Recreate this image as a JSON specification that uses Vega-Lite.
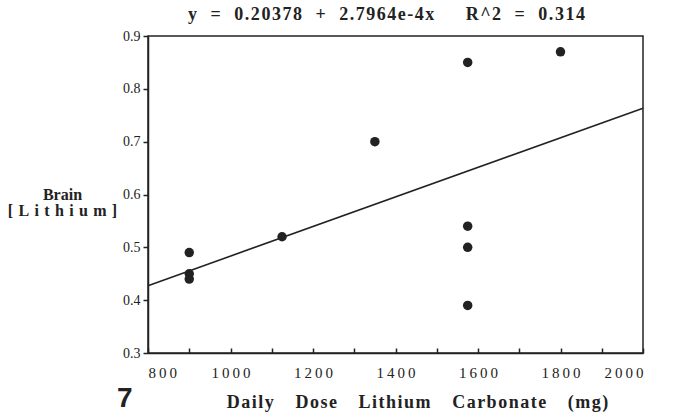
{
  "$schema": "https://vega.github.io/schema/vega-lite/v6.json",
  "width": 495,
  "height": 317,
  "autosize": "none",
  "padding": {"left": 148, "top": 36, "right": 34, "bottom": 62},
  "background": "white",
  "config": {
    "view": {"stroke": "#222", "strokeWidth": 1.5},
    "axis": {"grid": false, "domainColor": "#222", "domainWidth": 1.5, "tickColor": "#222", "labelColor": "#222", "titleColor": "#222", "labelFont": "Liberation Serif", "titleFont": "Liberation Serif"}
  },
  "title": {
    "text": "y\u2002 =\u2002 0\u200A.\u200A2\u200A0\u200A3\u200A7\u200A8\u2002 +\u2002 2\u200A.\u200A7\u200A9\u200A6\u200A4\u200Ae\u200A-\u200A4\u200Ax\u2003\u2002 R\u200A^\u200A2\u2002 =\u2002 0\u200A.\u200A3\u200A1\u200A4",
    "font": "Liberation Serif",
    "fontSize": 18,
    "fontWeight": "bold",
    "color": "#222",
    "anchor": "middle",
    "dx": -9,
    "offset": 5
  },
  "datasets": {
    "pts": [
      {"dose": 900, "li": 0.49},
      {"dose": 900, "li": 0.45},
      {"dose": 900, "li": 0.44},
      {"dose": 1125, "li": 0.52},
      {"dose": 1350, "li": 0.70},
      {"dose": 1575, "li": 0.85},
      {"dose": 1575, "li": 0.54},
      {"dose": 1575, "li": 0.50},
      {"dose": 1575, "li": 0.39},
      {"dose": 1800, "li": 0.87}
    ],
    "fit": [
      {"dose": 800, "li": 0.4275},
      {"dose": 2000, "li": 0.7631}
    ],
    "fig": [
      {"dose": 744, "li": 0.198, "label": "7"}
    ]
  },
  "layer": [
    {
      "data": {"name": "pts"},
      "mark": {"type": "circle", "size": 90, "color": "#222", "opacity": 1},
      "encoding": {
        "x": {
          "field": "dose", "type": "quantitative",
          "scale": {"domain": [800, 2000], "nice": false, "zero": false},
          "axis": {
            "values": [800, 900, 1000, 1100, 1200, 1300, 1400, 1500, 1600, 1700, 1800, 1900, 2000],
            "labelExpr": "datum.value % 200 == 0 ? replace(toString(datum.value), regexp('(\\\\d)(?=\\\\d)', 'g'), '$1\u2009') : ''",
            "labelFontSize": 15,
            "labelPadding": 17,
            "tickSize": -5,
            "tickWidth": 1.5,
            "title": "D\u200Aa\u200Ai\u200Al\u200Ay\u2003\u2009D\u200Ao\u200As\u200Ae\u2003\u2009L\u200Ai\u200At\u200Ah\u200Ai\u200Au\u200Am\u2003\u2009C\u200Aa\u200Ar\u200Ab\u200Ao\u200An\u200Aa\u200At\u200Ae\u2003\u2009(\u200Am\u200Ag\u200A)",
            "titleFontSize": 18,
            "titleFontWeight": "bold",
            "titleX": 269,
            "titleY": 54,
            "titleAlign": "center",
            "titleBaseline": "alphabetic"
          }
        },
        "y": {
          "field": "li", "type": "quantitative",
          "scale": {"domain": [0.3, 0.9], "nice": false, "zero": false},
          "axis": {
            "values": [0.3, 0.35, 0.4, 0.45, 0.5, 0.55, 0.6, 0.65, 0.7, 0.75, 0.8, 0.85, 0.9],
            "labelExpr": "round(datum.value*100) % 10 == 0 ? format(datum.value, '.1f') : ''",
            "labelFontSize": 14,
            "labelPadding": 3,
            "tickSize": 5,
            "tickWidth": 1.5,
            "title": ["Brain", "[\u2004L\u2004i\u2004t\u2004h\u2004i\u2004u\u2004m\u2004]"],
            "titleFontSize": 16,
            "titleFontWeight": "bold",
            "titleAngle": 0,
            "titleX": -86,
            "titleY": 163,
            "titleAlign": "center",
            "titleBaseline": "alphabetic",
            "titleLineHeight": 16
          }
        }
      }
    },
    {
      "data": {"name": "fit"},
      "mark": {"type": "line", "color": "#222", "strokeWidth": 1.6},
      "encoding": {
        "x": {"field": "dose", "type": "quantitative"},
        "y": {"field": "li", "type": "quantitative"}
      }
    },
    {
      "data": {"name": "fig"},
      "mark": {"type": "text", "font": "Liberation Sans", "fontSize": 28, "fontWeight": "bold", "color": "#222", "align": "center", "baseline": "alphabetic", "clip": false},
      "encoding": {
        "x": {"field": "dose", "type": "quantitative"},
        "y": {"field": "li", "type": "quantitative"},
        "text": {"field": "label"}
      }
    }
  ]
}
